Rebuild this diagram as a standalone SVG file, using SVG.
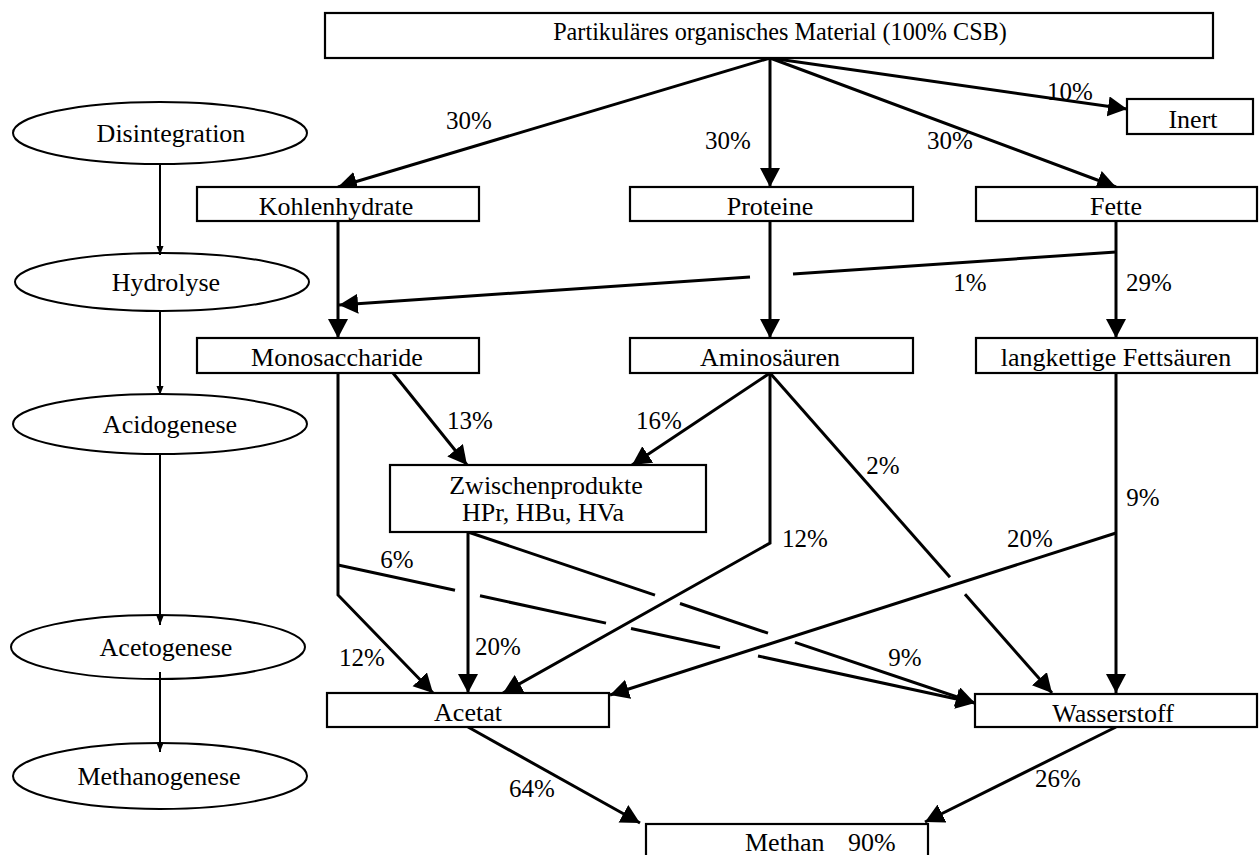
<svg xmlns="http://www.w3.org/2000/svg" width="1259" height="855" viewBox="0 0 1259 855" font-family="'Liberation Serif', 'DejaVu Serif', serif">
  <style>
    .box { fill: #fff; stroke: #000; stroke-width: 2.2; }
    .ell { fill: #fff; stroke: #000; stroke-width: 2; }
    .t { font-family: 'Liberation Serif', 'DejaVu Serif', serif; font-size: 26px; fill: #000; text-anchor: middle; }
    .top { font-size: 24.2px; }
    .lbl { font-family: 'Liberation Serif', 'DejaVu Serif', serif; font-size: 25px; fill: #000; text-anchor: middle; }
    .c { fill: none; stroke: #000; stroke-width: 3; stroke-linejoin: miter; }
    .thin { fill: none; stroke: #000; stroke-width: 2; }
  </style>
  <defs>
    <marker id="ah" markerUnits="userSpaceOnUse" markerWidth="20" markerHeight="22" refX="19" refY="10" orient="auto">
      <path d="M0,0 L19,10 L0,20 z" fill="#000"/>
    </marker>
    <marker id="ahs" markerUnits="userSpaceOnUse" markerWidth="10" markerHeight="8" refX="9" refY="3.5" orient="auto">
      <path d="M0,0 L9,3.5 L0,7 z" fill="#000"/>
    </marker>
  </defs>
  <rect width="1259" height="855" fill="#fff"/>

  <!-- phase sequence on the left -->
  <g id="disintegration"><ellipse class="ell" cx="160" cy="133" rx="147" ry="31"/><text class="t" x="171" y="142">Disintegration</text></g>
  <g id="hydrolyse"><ellipse class="ell" cx="162" cy="282" rx="147" ry="29"/><text class="t" x="166" y="291">Hydrolyse</text></g>
  <g id="acidogenese"><ellipse class="ell" cx="160" cy="424" rx="147" ry="30"/><text class="t" x="170" y="433">Acidogenese</text></g>
  <g id="acetogenese"><ellipse class="ell" cx="158" cy="647" rx="147" ry="32"/><text class="t" x="166" y="656">Acetogenese</text></g>
  <g id="methanogenese"><ellipse class="ell" cx="160" cy="776" rx="147" ry="33"/><text class="t" x="159" y="785">Methanogenese</text></g>
  <g id="phase-arrows">
    <line class="thin" x1="160" y1="165" x2="160" y2="255" marker-end="url(#ahs)"/>
    <line class="thin" x1="160" y1="310" x2="160" y2="395" marker-end="url(#ahs)"/>
    <line class="thin" x1="160" y1="455" x2="160" y2="625" marker-end="url(#ahs)"/>
    <line class="thin" x1="160" y1="672" x2="160" y2="752" marker-end="url(#ahs)"/>
  </g>

  <!-- flow connectors -->
  <g id="connectors">
    <line class="c" x1="770" y1="58" x2="338" y2="187" marker-end="url(#ah)"/>
    <line class="c" x1="770" y1="58" x2="770" y2="187" marker-end="url(#ah)"/>
    <line class="c" x1="770" y1="58" x2="1116" y2="187" marker-end="url(#ah)"/>
    <line class="c" x1="770" y1="58" x2="1127" y2="109" marker-end="url(#ah)"/>

    <line class="c" x1="338" y1="221" x2="338" y2="338" marker-end="url(#ah)"/>
    <line class="c" x1="770" y1="221" x2="770" y2="338" marker-end="url(#ah)"/>
    <line class="c" x1="1116" y1="221" x2="1116" y2="338" marker-end="url(#ah)"/>
    <!-- 1 % fat share to monosaccharides, broken where it passes the protein line -->
    <line class="c" x1="1116" y1="252" x2="793" y2="274" />
    <line class="c" x1="750" y1="277" x2="339" y2="305" marker-end="url(#ah)"/>

    <line class="c" x1="393" y1="373" x2="467" y2="465" marker-end="url(#ah)"/>
    <line class="c" x1="770" y1="373" x2="632" y2="465" marker-end="url(#ah)"/>

    <polyline class="c" points="338,373 338,595 433,693" marker-end="url(#ah)"/>
    <!-- 6 % monosaccharides to hydrogen -->
    <line class="c" x1="338" y1="565" x2="455" y2="590.3"/>
    <line class="c" x1="480" y1="595.8" x2="606" y2="623.1"/>
    <line class="c" x1="631" y1="628.5" x2="720" y2="647.8"/>
    <line class="c" x1="758" y1="656" x2="975" y2="703" marker-end="url(#ah)"/>

    <line class="c" x1="468" y1="532" x2="468" y2="693" marker-end="url(#ah)"/>
    <!-- intermediates to hydrogen -->
    <line class="c" x1="468" y1="532" x2="655" y2="595.1"/>
    <line class="c" x1="680" y1="603.5" x2="768" y2="633.2"/>
    <line class="c" x1="795" y1="642.3" x2="975" y2="703" marker-end="url(#ah)"/>

    <polyline class="c" points="770,373 770,543 503,693" marker-end="url(#ah)"/>
    <line class="c" x1="770" y1="373" x2="950" y2="577.3"/>
    <line class="c" x1="965" y1="594.3" x2="1052" y2="693" marker-end="url(#ah)"/>

    <line class="c" x1="1116" y1="373" x2="1116" y2="693" marker-end="url(#ah)"/>
    <line class="c" x1="1116" y1="533" x2="610" y2="695" marker-end="url(#ah)"/>

    <line class="c" x1="468" y1="727" x2="640" y2="823" marker-end="url(#ah)"/>
    <line class="c" x1="1116" y1="727" x2="925" y2="822" marker-end="url(#ah)"/>
  </g>

  <!-- substance boxes -->
  <g id="material"><rect class="box" x="325" y="13" width="888" height="45"/><text class="t top" x="780" y="40">Partikuläres organisches Material (100% CSB)</text></g>
  <g id="inert"><rect class="box" x="1127" y="99" width="126" height="35"/><text class="t" x="1193" y="128">Inert</text></g>
  <g id="kohlenhydrate"><rect class="box" x="197" y="187" width="282" height="34"/><text class="t" x="336" y="215">Kohlenhydrate</text></g>
  <g id="proteine"><rect class="box" x="630" y="187" width="283" height="34"/><text class="t" x="770" y="215">Proteine</text></g>
  <g id="fette"><rect class="box" x="976" y="187" width="281" height="34"/><text class="t" x="1116" y="215">Fette</text></g>
  <g id="monosaccharide"><rect class="box" x="197" y="338" width="282" height="35"/><text class="t" x="337" y="366">Monosaccharide</text></g>
  <g id="aminosaeuren"><rect class="box" x="630" y="338" width="283" height="35"/><text class="t" x="770" y="366">Aminosäuren</text></g>
  <g id="fettsaeuren"><rect class="box" x="976" y="338" width="281" height="35"/><text class="t" x="1116" y="366">langkettige Fettsäuren</text></g>
  <g id="zwischenprodukte"><rect class="box" x="390" y="465" width="316" height="67"/><text class="t" x="546" y="494">Zwischenprodukte</text><text class="t" x="543" y="521">HPr, HBu, HVa</text></g>
  <g id="acetat"><rect class="box" x="327" y="693" width="282" height="34"/><text class="t" x="468" y="721">Acetat</text></g>
  <g id="wasserstoff"><rect class="box" x="975" y="694" width="282" height="33"/><text class="t" x="1113" y="722">Wasserstoff</text></g>
  <g id="methan"><rect class="box" x="646" y="824" width="282" height="50"/><text class="t" x="745" y="851" style="text-anchor:start">Methan <tspan dx="17">90%</tspan></text></g>

  <!-- COD fractions -->
  <g id="labels">
    <text class="lbl" x="469" y="129">30%</text>
    <text class="lbl" x="728" y="149">30%</text>
    <text class="lbl" x="950" y="149">30%</text>
    <text class="lbl" x="1070" y="100">10%</text>
    <text class="lbl" x="970" y="291">1%</text>
    <text class="lbl" x="1149" y="291">29%</text>
    <text class="lbl" x="470" y="429">13%</text>
    <text class="lbl" x="659" y="429">16%</text>
    <text class="lbl" x="883" y="474">2%</text>
    <text class="lbl" x="1143" y="506">9%</text>
    <text class="lbl" x="805" y="547">12%</text>
    <text class="lbl" x="1030" y="547">20%</text>
    <text class="lbl" x="397" y="568">6%</text>
    <text class="lbl" x="362" y="666">12%</text>
    <text class="lbl" x="498" y="655">20%</text>
    <text class="lbl" x="905" y="666">9%</text>
    <text class="lbl" x="532" y="797">64%</text>
    <text class="lbl" x="1058" y="787">26%</text>
  </g>
</svg>
